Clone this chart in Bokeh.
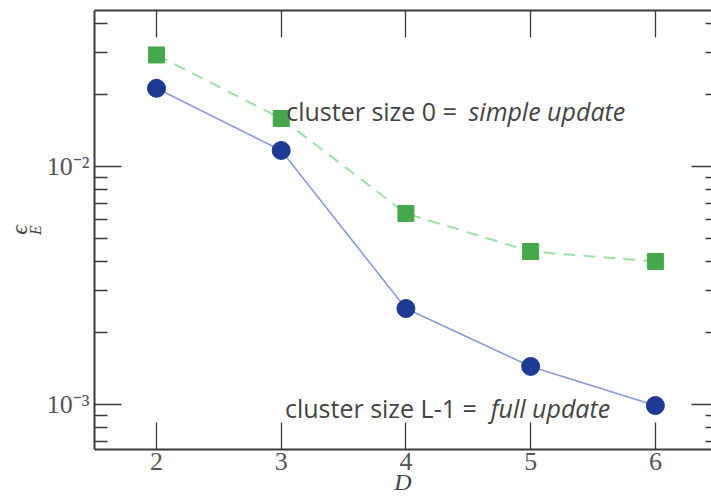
import numpy as np
from bokeh.plotting import figure
from bokeh.models import (LinearAxis, LogAxis, Label, CustomJSTickFormatter,
                          FixedTicker, ColumnDataSource)
from bokeh.embed import file_html
from bokeh.resources import INLINE

# ---- data ----
D = [2, 3, 4, 5, 6]
eps_simple = [0.0294, 0.0159, 0.00635, 0.00439, 0.00399]   # cluster size 0
eps_full = [0.0213, 0.01167, 0.00253, 0.001445, 0.00099]   # cluster size L-1
x_ticks = [2, 3, 4, 5, 6]
y_major = [1e-3, 1e-2]
y_minor = [7e-4, 8e-4, 9e-4, 2e-3, 3e-3, 4e-3, 5e-3, 6e-3, 7e-3, 8e-3, 9e-3,
           2e-2, 3e-2, 4e-2]

src_s = ColumnDataSource(dict(D=D, e=eps_simple))
src_f = ColumnDataSource(dict(D=D, e=eps_full))

p = figure(width=711, height=499, x_range=(1.503, 6.45), y_range=(6.47e-4, 0.0452),
           y_axis_type="log", output_backend="svg", toolbar_location=None,
           min_border_left=94, min_border_right=0, min_border_top=10, min_border_bottom=50)
p.outline_line_color = None
p.xgrid.visible = False
p.ygrid.visible = False
p.background_fill_color = "white"
p.border_fill_color = "white"

AX = "#3a3a3a"
LBL = "#555555"
SERIF = "Liberation Serif"

sup_fmt = CustomJSTickFormatter(code="""
const e = Math.round(Math.log10(tick));
const m = {'-':'\u207b','0':'\u2070','1':'\u00b9','2':'\u00b2','3':'\u00b3','4':'\u2074','5':'\u2075','6':'\u2076','7':'\u2077','8':'\u2078','9':'\u2079'};
return '10' + String(e).split('').map(c => m[c]).join('');
""")
empty_fmt = CustomJSTickFormatter(code="return '';")

# bottom axis
xa = p.xaxis[0]
xa.ticker = FixedTicker(ticks=x_ticks)
xa.axis_label = "D"
xa.axis_label_text_font = SERIF
xa.axis_label_text_font_style = "italic"
xa.axis_label_text_font_size = "24px"
xa.axis_label_text_color = "#444444"
xa.axis_label_standoff = -4
xa.major_label_text_font = SERIF
xa.major_label_text_font_size = "26px"
xa.major_label_text_color = LBL
xa.major_label_standoff = 3
xa.major_tick_in = 27
xa.major_tick_out = 0
xa.minor_tick_line_color = None
xa.axis_line_color = AX
xa.axis_line_width = 2
xa.major_tick_line_color = AX
xa.major_tick_line_width = 1.3

# left axis (its label is the subscript E of the y label)
ya = p.yaxis[0]
ya.ticker = FixedTicker(ticks=y_major, minor_ticks=y_minor)
ya.formatter = sup_fmt
ya.major_label_text_font = SERIF
ya.major_label_text_font_size = "26px"
ya.major_label_text_color = LBL
ya.major_label_standoff = 5
ya.major_tick_in = 27
ya.major_tick_out = 0
ya.minor_tick_in = 13
ya.minor_tick_out = 0
ya.axis_line_color = AX
ya.axis_line_width = 2
ya.major_tick_line_color = AX
ya.minor_tick_line_color = AX
ya.major_tick_line_width = 1.3
ya.minor_tick_line_width = 1.3
ya.axis_label = "E"
ya.axis_label_text_font = SERIF
ya.axis_label_text_font_style = "italic"
ya.axis_label_text_font_size = "16px"
ya.axis_label_text_color = "#444444"
ya.axis_label_standoff = 0

# outer label-only axis carrying the epsilon of the y label
ea = LogAxis(ticker=FixedTicker(ticks=[]), formatter=empty_fmt, axis_line_color=None,
             major_tick_line_color=None, minor_tick_line_color=None,
             major_label_standoff=0, major_tick_in=0, major_tick_out=0,
             minor_tick_in=0, minor_tick_out=0,
             axis_label="\u03f5", axis_label_text_font=SERIF,
             axis_label_text_font_style="italic", axis_label_text_font_size="24px",
             axis_label_text_color="#444444", axis_label_standoff=-8)
p.add_layout(ea, "left")

# top axis (ticks only)
ta = LinearAxis(ticker=FixedTicker(ticks=x_ticks), formatter=empty_fmt,
                major_label_standoff=0, major_tick_in=27, major_tick_out=0,
                minor_tick_line_color=None, axis_line_color=AX, axis_line_width=2,
                major_tick_line_color=AX, major_tick_line_width=1.3)
p.add_layout(ta, "above")

# right axis (ticks only, spine just outside view)
ra = LogAxis(ticker=FixedTicker(ticks=y_major, minor_ticks=y_minor), formatter=empty_fmt,
             major_label_standoff=0,
             major_tick_in=20, major_tick_out=0, minor_tick_in=6, minor_tick_out=0,
             axis_line_color=None, major_tick_line_color=AX, minor_tick_line_color=AX,
             major_tick_line_width=1.3, minor_tick_line_width=1.3)
p.add_layout(ra, "right")

# series: simple update (green dashed, squares)
p.line("D", "e", source=src_s, line_color="#9be3a6", line_width=2, line_dash="12 8")
p.scatter("D", "e", source=src_s, marker="square", size=16, fill_color="#45a84a",
          line_color="#45a84a")

# series: full update (blue solid, circles)
p.line("D", "e", source=src_f, line_color="#8a9bdb", line_width=1.6)
p.scatter("D", "e", source=src_f, marker="circle", size=18, fill_color="#1d3a94",
          line_color="#1d3a94")

# annotations
TXT = "#444444"
FS = "25px"
SANS = "Open Sans"
p.add_layout(Label(x=3.04, y=0.01702, text="cluster size 0 =", text_font=SANS,
                   text_font_size=FS, text_color=TXT, text_baseline="alphabetic"))
p.add_layout(Label(x=4.502, y=0.01702, text="simple update", text_font=SANS,
                   text_font_style="italic", text_font_size=FS, text_color=TXT,
                   text_baseline="alphabetic"))
p.add_layout(Label(x=3.03, y=0.000971, text="cluster size L-1 =", text_font=SANS,
                   text_font_size=FS, text_color=TXT, text_baseline="alphabetic"))
p.add_layout(Label(x=4.68, y=0.000971, text="full update", text_font=SANS,
                   text_font_style="italic", text_font_size=FS, text_color=TXT,
                   text_baseline="alphabetic"))

open("out.html", "w").write(file_html(p, INLINE))
